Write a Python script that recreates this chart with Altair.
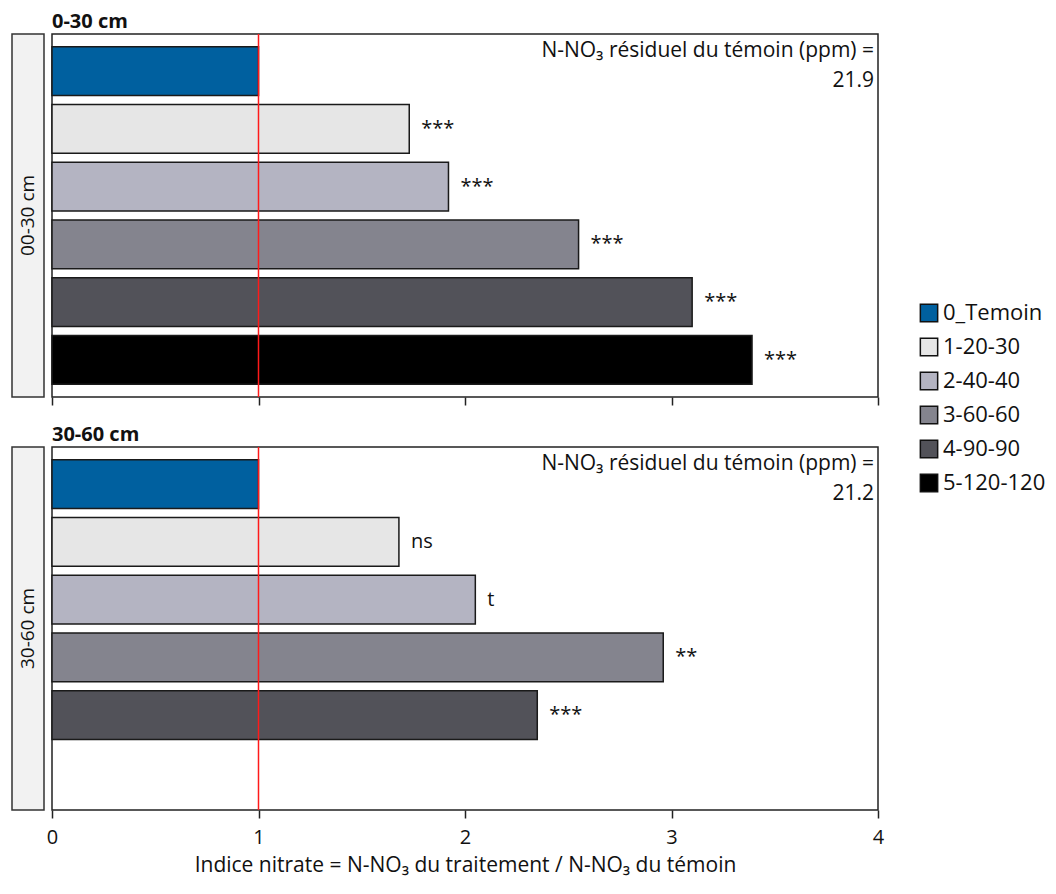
import altair as alt
import pandas as pd

treatments = ["0_Temoin", "1-20-30", "2-40-40", "3-60-60", "4-90-90", "5-120-120"]
colors = ["#00609f", "#e6e6e6", "#b4b4c2", "#84848e", "#525259", "#000000"]

top_values = [1.0, 1.73, 1.92, 2.55, 3.10, 3.39]
top_signif = ["", "***", "***", "***", "***", "***"]
bot_treat = ["0_Temoin", "1-20-30", "2-40-40", "3-60-60", "4-90-90"]
bot_values = [1.0, 1.68, 2.05, 2.96, 2.35]
bot_signif = ["", "ns", "t", "**", "***"]

panels = ["0-30 cm", "30-60 cm"]
strips = ["00-30 cm", "30-60 cm"]
residuals = ["21.9", "21.2"]
ann_line = "N-NO\u2083 résiduel du témoin (ppm) ="
x_ticks = [0, 1, 2, 3, 4]
xtitle = "Indice nitrate = N-NO\u2083 du traitement / N-NO\u2083 du témoin"

FONT = "Open Sans"
W = 826
H = 363


def panel(treat, vals, sig, title, strip, resid, show_labels):
    df = pd.DataFrame({"treatment": treat, "value": vals, "sig": sig})
    yenc = alt.Y("treatment:N", sort=treatments,
                 scale=alt.Scale(domain=treatments, paddingInner=0.155, paddingOuter=0.22),
                 axis=None)
    xaxis = alt.Axis(values=x_ticks, labels=show_labels, title=xtitle if show_labels else None,
                     format="d", grid=False, domain=False, tickSize=8, tickWidth=1.5,
                     tickColor="#222", labelFontSize=20, labelFont=FONT, labelPadding=9,
                     labelFlush=False, labelColor="#111", titleFontSize=21, titleFont=FONT,
                     titleFontWeight="normal", titlePadding=7, titleColor="#111")
    xenc = alt.X("value:Q", scale=alt.Scale(domain=[0, 4], nice=False, zero=True), axis=xaxis)
    bars = alt.Chart(df).mark_bar(stroke="#1a1a1a", strokeWidth=1.5).encode(
        x=xenc, y=yenc,
        color=alt.Color("treatment:N", scale=alt.Scale(domain=treatments, range=colors),
                        legend=alt.Legend(title=None, orient="none", legendX=866, legendY=268,
                                          symbolType="square", symbolSize=300,
                                          symbolStrokeColor="#111", symbolStrokeWidth=1.5,
                                          labelFontSize=22, labelFont=FONT, labelColor="#111",
                                          rowPadding=10, labelOffset=3)))
    labels = alt.Chart(df).mark_text(align="left", baseline="middle", dx=12, fontSize=20,
                                     font=FONT, color="#111").encode(
        x="value:Q", y=yenc, text="sig:N")
    rule_df = pd.DataFrame({"ref": [1.0]})
    rule = alt.Chart(rule_df).mark_rule(color="#ff1a1a", strokeWidth=1.5).encode(x="ref:Q")
    ann_df = pd.DataFrame({"a": [ann_line], "r": [resid]})
    ann1 = alt.Chart(ann_df).mark_text(align="right", baseline="middle", fontSize=21, font=FONT,
                                       color="#111").encode(
        x=alt.value(W - 4), y=alt.value(17), text="a:N")
    ann2 = alt.Chart(ann_df).mark_text(align="right", baseline="middle", fontSize=21, font=FONT,
                                       color="#111").encode(
        x=alt.value(W - 4), y=alt.value(47), text="r:N")
    strip_df = pd.DataFrame({"s": [strip]})
    strip_rect = alt.Chart(strip_df).mark_rect(fill="#f2f2f2", stroke="#333", strokeWidth=1.5).encode(
        x=alt.value(-40), x2=alt.value(-8), y=alt.value(0), y2=alt.value(H))
    strip_text = alt.Chart(strip_df).mark_text(angle=270, fontSize=19, font=FONT, color="#111",
                                               baseline="middle", align="center").encode(
        x=alt.value(-24), y=alt.value(H / 2), text="s:N")
    return alt.layer(strip_rect, strip_text, bars, rule, labels, ann1, ann2).properties(
        width=W, height=H,
        title=alt.TitleParams(title, anchor="start", frame="group", fontSize=20, font=FONT,
                              fontWeight="bold", color="#111", offset=1))


p1 = panel(treatments, top_values, top_signif, panels[0], strips[0], residuals[0], False)
p2 = panel(bot_treat, bot_values, bot_signif, panels[1], strips[1], residuals[1], True)

chart = alt.vconcat(p1, p2, spacing=17).configure(padding={"left": 2, "top": 3, "right": 0, "bottom": 0}).configure_view(
    stroke="#222", strokeWidth=1.5)

chart.save("out.html", embed_options={"renderer": "svg", "actions": False})
